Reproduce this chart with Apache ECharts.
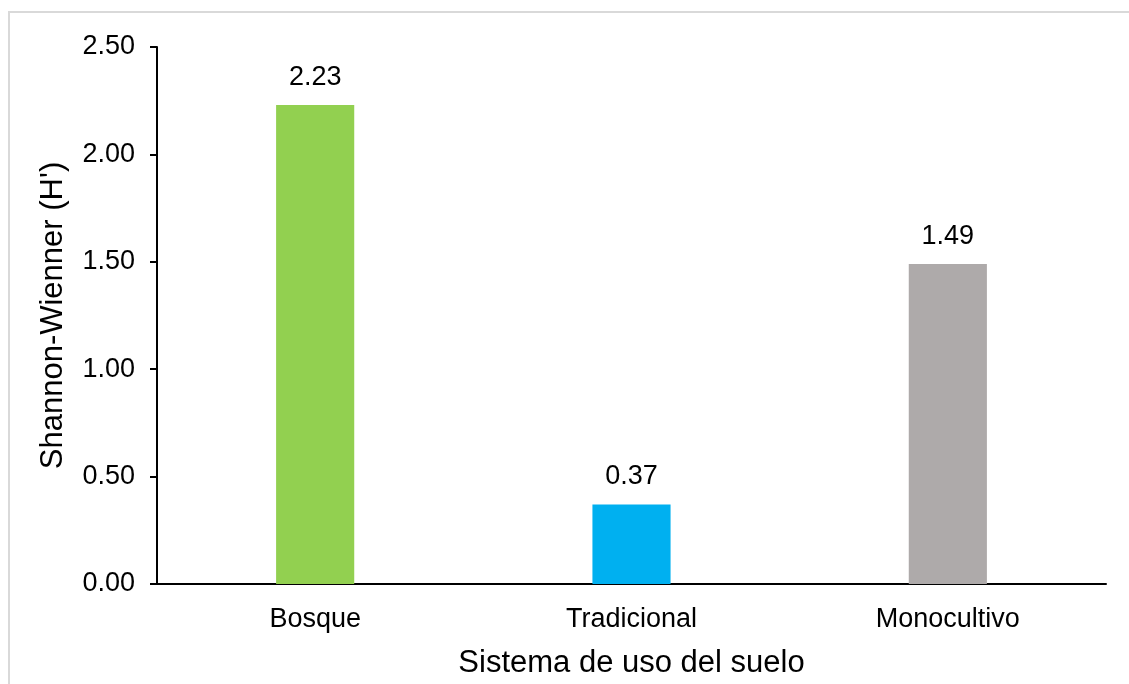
<!DOCTYPE html>
<html>
<head>
<meta charset="utf-8">
<script src="https://cdn.jsdelivr.net/npm/echarts@6/dist/echarts.min.js"></script>
<style>
html,body{margin:0;padding:0;background:#fff;}
#chart{width:1129px;height:684px;}
</style>
</head>
<body>
<div id="chart"></div>
<script>
const categories = ['Bosque', 'Tradicional', 'Monocultivo'];
const values = [2.23, 0.37, 1.49];
const barColors = ['#92D050', '#00B0F0', '#AEAAAA'];
const yTicks = { min: 0, max: 2.5, interval: 0.5 };
const xAxisTitle = 'Sistema de uso del suelo';
const yAxisTitle = "Shannon-Wienner (H')";

const FONT = '"Liberation Sans", Arial, sans-serif';
const chart = echarts.init(document.getElementById('chart'), null, { renderer: 'canvas' });
chart.setOption({
  animation: false,
  backgroundColor: '#fff',
  textStyle: { fontFamily: FONT },
  graphic: [{
    type: 'rect',
    shape: { x: 9, y: 12, width: 1300, height: 900 },
    style: { fill: 'none', stroke: '#d9d9d9', lineWidth: 2 },
    silent: true
  }],
  grid: { left: 157, right: 23, top: 47, bottom: 100, containLabel: false },
  xAxis: {
    type: 'category',
    data: categories,
    name: xAxisTitle,
    nameLocation: 'middle',
    nameGap: 64,
    nameTextStyle: { fontSize: 31, color: '#000', fontFamily: FONT },
    axisLine: { lineStyle: { color: '#000', width: 2 } },
    axisTick: { show: false },
    axisLabel: { fontSize: 27, color: '#000', margin: 22, fontFamily: FONT },
    splitLine: { show: false }
  },
  yAxis: {
    type: 'value',
    min: yTicks.min,
    max: yTicks.max,
    interval: yTicks.interval,
    name: yAxisTitle,
    nameLocation: 'middle',
    nameGap: 88,
    nameRotate: 90,
    nameTextStyle: { fontSize: 31, color: '#000', fontFamily: FONT },
    axisLine: { show: true, lineStyle: { color: '#000', width: 2 } },
    axisTick: { show: true, length: 7, lineStyle: { color: '#000', width: 2 } },
    axisLabel: { fontSize: 27, color: '#000', margin: 22, fontFamily: FONT,
      formatter: v => v.toFixed(2) },
    splitLine: { show: false }
  },
  series: [{
    type: 'bar',
    data: values.map((v, i) => ({ value: v, itemStyle: { color: barColors[i] } })),
    barWidth: '24.7%',
    label: {
      show: true,
      position: 'top',
      distance: 14,
      fontSize: 27,
      color: '#000',
      fontFamily: FONT,
      formatter: p => p.value.toFixed(2)
    }
  }]
});
</script>
</body>
</html>
